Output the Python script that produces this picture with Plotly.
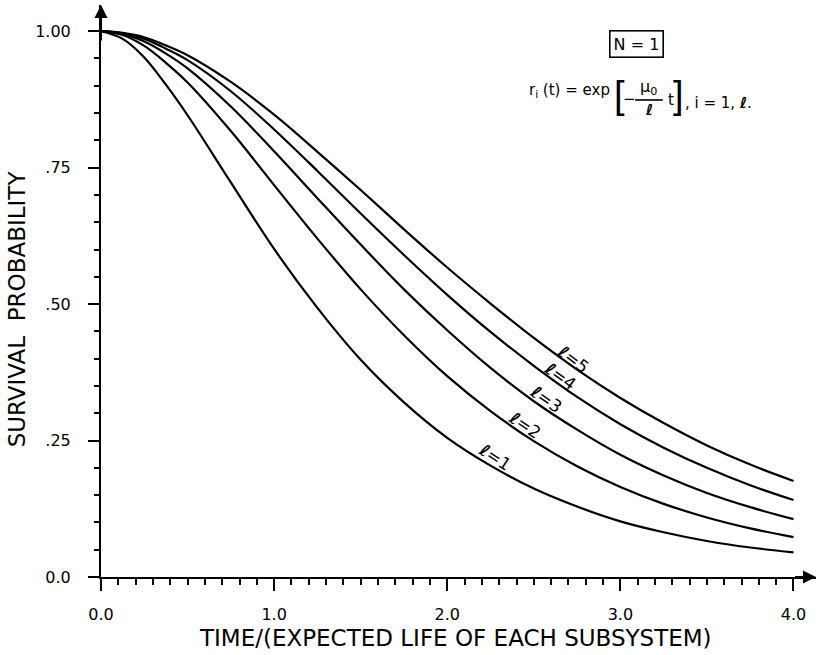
import plotly.graph_objects as go

# Normalized time (t / expected life of each subsystem)
t_values = [0.0, 0.125, 0.25, 0.375, 0.5, 0.75, 1.0, 1.25, 1.5, 1.75, 2.0,
            2.25, 2.5, 2.75, 3.0, 3.25, 3.5, 3.75, 4.0]

# Survival probability for l = 1 ... 5 subsystem components
surv_l1 = [1.000, 0.986, 0.952, 0.902, 0.846, 0.723, 0.601, 0.493, 0.398,
           0.320, 0.255, 0.204, 0.162, 0.129, 0.102, 0.082, 0.066, 0.054, 0.045]
surv_l2 = [1.000, 0.993, 0.973, 0.942, 0.906, 0.817, 0.718, 0.620, 0.527,
           0.443, 0.368, 0.304, 0.249, 0.203, 0.165, 0.134, 0.109, 0.089, 0.073]
surv_l3 = [1.000, 0.995, 0.981, 0.959, 0.932, 0.862, 0.780, 0.694, 0.609,
           0.527, 0.452, 0.383, 0.322, 0.270, 0.224, 0.186, 0.154, 0.128, 0.106]
surv_l4 = [1.000, 0.996, 0.986, 0.968, 0.947, 0.890, 0.820, 0.744, 0.666,
           0.590, 0.517, 0.449, 0.387, 0.330, 0.280, 0.237, 0.200, 0.168, 0.141]
surv_l5 = [1.000, 0.997, 0.989, 0.974, 0.956, 0.907, 0.847, 0.779, 0.709,
           0.637, 0.567, 0.501, 0.438, 0.380, 0.328, 0.282, 0.241, 0.206, 0.176]

series = [("1", surv_l1), ("2", surv_l2), ("3", surv_l3), ("4", surv_l4), ("5", surv_l5)]

# Curve labels: (label, x, y, angle)
curve_labels = [("1", 2.276, 0.220, 33), ("2", 2.449, 0.279, 34),
                ("3", 2.571, 0.326, 35), ("4", 2.652, 0.368, 36),
                ("5", 2.727, 0.399, 37)]

x_major = [0.0, 0.5, 1.0, 1.5, 2.0, 2.5, 3.0, 3.5, 4.0]
x_major_text = ["0.0", "", "1.0", "", "2.0", "", "3.0", "", "4.0"]
x_minor = [round(i * 0.1, 1) for i in range(41)]
y_major = [0.0, 0.25, 0.5, 0.75, 1.0]
y_major_text = ["0.0", ".25", ".50", ".75", "1.00"]
y_minor = [round(i * 0.05, 2) for i in range(21)]

FONT = "DejaVu Sans"
THIN = "Liberation Sans"

fig = go.Figure()
for name, vals in series:
    fig.add_trace(go.Scatter(
        x=t_values, y=vals, mode="lines", name="l=" + name,
        line=dict(color="black", width=2.2, shape="spline", smoothing=1.0),
        showlegend=False, hoverinfo="skip"))

annotations = []
for lab, lx, ly, ang in curve_labels:
    annotations.append(dict(
        x=lx, y=ly, xref="x", yref="y", text="<b><i>ℓ</i></b>=" + lab,
        showarrow=False, textangle=ang,
        font=dict(family=FONT, size=17, color="black")))

# Axis arrowheads
annotations.append(dict(x=4.13, y=0, ax=4.0, ay=0, xref="x", yref="y",
                        axref="x", ayref="y", text="", showarrow=True,
                        arrowhead=2, arrowsize=1.3, arrowwidth=2,
                        arrowcolor="black", standoff=0))
annotations.append(dict(x=0, y=1.048, ax=0, ay=0.98, xref="x", yref="y",
                        axref="x", ayref="y", text="", showarrow=True,
                        arrowhead=2, arrowsize=1.3, arrowwidth=2,
                        arrowcolor="black", standoff=0))

# Boxed case label
annotations.append(dict(x=3.091, y=0.976, xref="x", yref="y", text="N = 1",
                        showarrow=False, bordercolor="black", borderwidth=1.6,
                        borderpad=3, font=dict(family=FONT, size=16, color="black")))

# Component reliability formula
eq_font = dict(family=FONT, size=15, color="black")
bracket_font = dict(family=THIN, size=38, color="black")
annotations += [
    dict(x=2.952, y=0.892, xref="x", yref="y", xanchor="right",
         text="r<sub>i</sub> (t) = exp", showarrow=False, font=eq_font),
    dict(x=2.993, y=0.884, xref="x", yref="y", text="[", showarrow=False,
         font=bracket_font),
    dict(x=3.055, y=0.876, xref="x", yref="y", text="−", showarrow=False,
         font=eq_font),
    dict(x=3.165, y=0.896, xref="x", yref="y", text="μ<sub>0</sub>",
         showarrow=False, font=dict(family=FONT, size=16, color="black")),
    dict(x=3.165, y=0.855, xref="x", yref="y", text="<b><i>ℓ</i></b>",
         showarrow=False, font=eq_font),
    dict(x=3.295, y=0.874, xref="x", yref="y", text="t", showarrow=False,
         font=eq_font),
    dict(x=3.338, y=0.884, xref="x", yref="y", text="]", showarrow=False,
         font=bracket_font),
    dict(x=3.362, y=0.868, xref="x", yref="y", xanchor="left",
         text=", i = 1, <b><i>ℓ</i></b>.", showarrow=False, font=eq_font),
]

# Axis titles
annotations.append(dict(x=0.4965, y=-0.107, xref="paper", yref="paper",
                        text="TIME/(EXPECTED LIFE OF EACH SUBSYSTEM)",
                        showarrow=False, yanchor="middle",
                        font=dict(family=FONT, size=23, color="black")))
annotations.append(dict(x=-0.117, y=0.4685, xref="paper", yref="paper",
                        text="SURVIVAL  PROBABILITY", textangle=-90,
                        showarrow=False, xanchor="center",
                        font=dict(family=FONT, size=23, color="black")))

fig.update_layout(
    width=821, height=655,
    margin=dict(l=101, r=5, t=5, b=78),
    paper_bgcolor="white", plot_bgcolor="white",
    font=dict(family=FONT, color="black"),
    annotations=annotations,
    shapes=[dict(type="line", xref="x", yref="y", x0=3.085, x1=3.245,
                 y0=0.874, y1=0.874, line=dict(color="black", width=1.6))],
)

fig.update_xaxes(
    range=[0, 4.13], showgrid=False, zeroline=False,
    showline=True, linecolor="black", linewidth=2,
    tickmode="array", tickvals=x_major, ticktext=x_major_text,
    ticks="outside", ticklen=12, tickwidth=1.8, tickcolor="black",
    ticklabelstandoff=10,
    tickfont=dict(family=FONT, size=16, color="black"),
    minor=dict(tickmode="array", tickvals=x_minor, ticks="outside",
               ticklen=6, tickwidth=1.5, tickcolor="black"),
)
fig.update_yaxes(
    range=[0, 1.048], showgrid=False, zeroline=False,
    showline=True, linecolor="black", linewidth=2,
    tickmode="array", tickvals=y_major, ticktext=y_major_text,
    ticks="outside", ticklen=11, tickwidth=1.8, tickcolor="black",
    ticklabelstandoff=14,
    tickfont=dict(family=FONT, size=16, color="black"),
    minor=dict(tickmode="array", tickvals=y_minor, ticks="outside",
               ticklen=5, tickwidth=1.5, tickcolor="black"),
)

fig.write_html("out.html")
